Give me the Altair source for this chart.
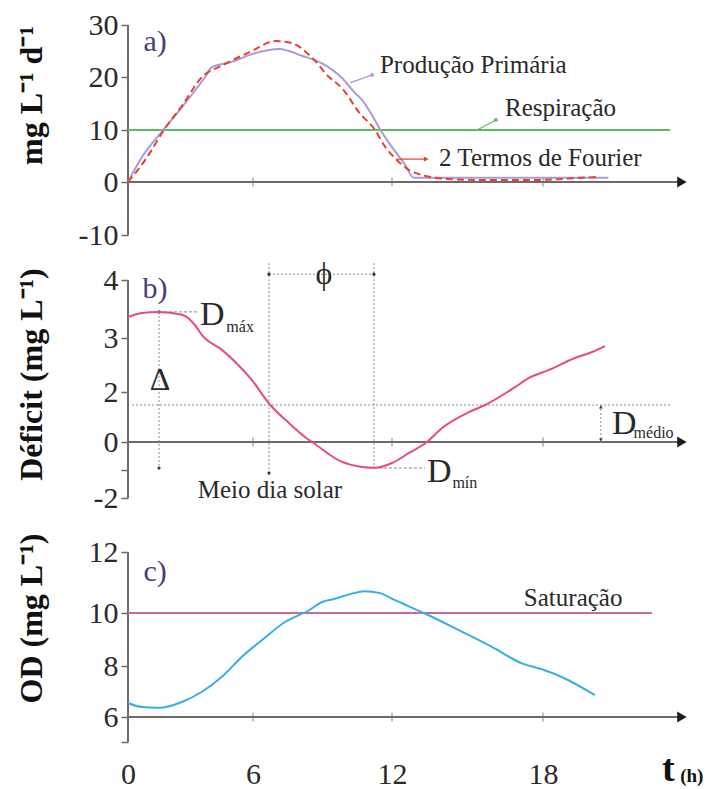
import altair as alt
import pandas as pd

# ---------------- data ----------------
# a) primary production and its 2-term Fourier fit (mg L-1 d-1)
T_PROD = [0, 0.67, 1.63, 2.59, 3.70, 4.03, 4.99, 5.95, 7.12, 8.11, 8.98, 9.84, 10.4, 10.7,
          11.14, 11.5, 12.0, 12.48, 12.87, 14.4, 16.4, 18.0, 20.6]
PROD = [0, 4.8, 9.7, 14.3, 20.0, 21.9, 22.9, 24.4, 25.4, 24.1, 22.6, 19.8, 17.0, 15.7,
        12.8, 10.0, 6.7, 3.6, 0.8, 0.8, 0.8, 0.8, 0.8]
T_FOURIER = [0, 0.82, 1.78, 2.6, 3.55, 4.51, 5.95, 6.95, 7.68, 8.55, 9.28, 9.84, 10.6,
             11.27, 11.7, 12.2, 12.68, 13.31, 14.2, 15.5, 17.8, 19.5, 20.2]
FOURIER = [0, 4.2, 10.3, 14.6, 20.0, 22.2, 25.0, 26.9, 26.5, 23.7, 20.0, 17.9, 13.2,
           10.0, 6.8, 4.2, 2.3, 1.2, 0.6, 0.4, 0.4, 0.8, 1.0]
T_RESP = [0, 23.05]
RESP = [10, 10]

# b) oxygen deficit (mg L-1)
T_DEF = [0, 0.67, 1.49, 2.59, 3.22, 3.55, 4.51, 5.14, 5.95, 6.69, 7.55, 8.42, 8.55, 9.84,
         10.7, 11.27, 12.0, 12.68, 13.39, 13.99, 15.06, 15.7, 16.89, 17.44, 18.24, 19.27,
         19.95, 20.46]
DEFICIT = [3.36, 3.43, 3.45, 3.40, 3.22, 3.05, 2.78, 2.56, 2.22, 1.54, 0.76, 0.08, 0.0,
           -0.71, -0.89, -0.92, -0.75, -0.39, 0.0, 0.56, 1.2, 1.48, 2.09, 2.26, 2.41, 2.63,
           2.74, 2.85]
D_MAX_T, D_MAX = 1.49, 3.45
D_MIN_T, D_MIN = 11.22, -0.93
D_MEAN = 1.48
NOON_T = 6.69

# c) dissolved oxygen (mg L-1) and saturation
T_OD = [0, 0.67, 1.49, 2.59, 3.55, 4.51, 5.47, 6.39, 7.38, 8.42, 8.98, 9.54, 10.4, 10.83,
        11.44, 12.12, 13.31, 14.66, 15.97, 17.16, 17.96, 18.87, 20.06]
OD = [6.55, 6.39, 6.36, 6.59, 6.99, 7.58, 8.35, 8.98, 9.66, 10.09, 10.36, 10.47, 10.66,
      10.71, 10.66, 10.42, 9.98, 9.35, 8.72, 8.1, 7.87, 7.51, 6.86]
T_SAT = [0, 22.33]
SAT = [10, 10]

X_TICKS = [0, 6, 12, 18]
Y_TICKS_A = [-10, 0, 10, 20, 30]
Y_TICKS_B = [-2, -1, 0, 2, 3, 4]
Y_TICKS_C = [5, 6, 8, 10, 12]

# ---------------- styling ----------------
SERIF = "Liberation Serif, Times New Roman, serif"
AX = "#6b6b6b"
TXT = "#2a2a2a"
PANEL = "#4b3c7d"
C_PROD = "#a99bd8"
C_FOUR = "#e8412f"
C_RESP = "#5fba67"
C_DEF = "#e84a86"
C_OD = "#3aaedf"
C_SAT = "#c86b9c"
DOT = "#8a8a8a"
ANN = 25

W = 566
XS = alt.Scale(domain=[0, 6, 12, 18, 24], range=[0, 125, 264, 415, 566], nice=False, zero=False)

HA = 225
YA = alt.Scale(domain=[-10, 0, 10, 20, 30], range=[210, 157, 105, 52, 0], nice=False, zero=False)
HB = 275
YB = alt.Scale(domain=[-2, 0, 2, 3, 4], range=[248, 192, 142, 88, 30], nice=False, zero=False)
HC = 217
YC = alt.Scale(domain=[5, 6, 8, 10, 12], range=[217, 192, 141, 88, 27], nice=False, zero=False)


def yaxis(values, title, title_y, hide=None):
    expr = "toString(datum.value)" if hide is None else \
        "datum.value == %s ? '' : toString(datum.value)" % hide
    return alt.Axis(values=values, title=title, domain=False, grid=False, tickSize=7,
                    tickWidth=1.5, tickColor=AX, labelFont=SERIF, labelFontSize=30,
                    labelColor=TXT, labelPadding=3, labelExpr=expr, titleFont=SERIF,
                    titleFontSize=32, titleFontWeight="bold", titleColor="#111",
                    titleX=-80, titleY=title_y, titleAngle=270)


XAX_C = alt.Axis(values=X_TICKS, domain=False, ticks=False, grid=False, labelFont=SERIF,
                 labelFontSize=30, labelColor=TXT, labelPadding=17, labelFlush=False,
                 labelOverlap=False, title=None, labelExpr="toString(datum.value)")


def makers(yscale, yax, xax=None):
    def X_(f):
        return alt.X(f, type="quantitative", scale=XS, axis=xax)

    def Y_(f):
        return alt.Y(f, type="quantitative", scale=yscale, axis=yax)
    return X_, Y_


def frame(X_, Y_, y_lo, y_hi, y0, x_end=23.4):
    vline = alt.Chart(pd.DataFrame({"t": [0], "lo": [y_lo], "hi": [y_hi]})).mark_rule(
        color=AX, strokeWidth=2).encode(x=X_("t"), y=Y_("lo"), y2="hi")
    hline = alt.Chart(pd.DataFrame({"t0": [0], "t1": [x_end], "v": [y0]})).mark_rule(
        color=AX, strokeWidth=2).encode(x=X_("t0"), x2="t1", y=Y_("v"))
    arrow = alt.Chart(pd.DataFrame({"t": [x_end + 0.12], "v": [y0]})).mark_point(
        shape="triangle-right", filled=True, size=120, color="#1e1e1e", opacity=1).encode(
        x=X_("t"), y=Y_("v"))
    ticks = alt.Chart(pd.DataFrame({"t": X_TICKS[1:], "v": [y0] * 3})).mark_tick(
        orient="vertical", size=9, thickness=1.2, color=AX).encode(x=X_("t"), y=Y_("v"))
    return [vline, hline, ticks, arrow]


def texts(X_, Y_, ts, vs, labels, size, color=TXT, align="left", weight="normal"):
    df = pd.DataFrame({"t": ts, "v": vs, "s": labels})
    return alt.Chart(df).mark_text(align=align, baseline="middle", fontSize=size, color=color,
                                   font=SERIF, fontWeight=weight).encode(
        x=X_("t"), y=Y_("v"), text="s:N")


def segs(X_, Y_, rows, color, width=1.0, dash=None):
    df = pd.DataFrame(rows, columns=["t0", "v0", "t1", "v1"])
    kw = {"strokeDash": dash} if dash else {}
    return alt.Chart(df).mark_rule(color=color, strokeWidth=width, **kw).encode(
        x=X_("t0"), y=Y_("v0"), x2="t1", y2="v1")


def dots(X_, Y_, ts, vs, color, size=14, shape="circle"):
    df = pd.DataFrame({"t": ts, "v": vs})
    return alt.Chart(df).mark_point(filled=True, size=size, color=color, opacity=1,
                                    shape=shape).encode(x=X_("t"), y=Y_("v"))


def series(X_, Y_, ts, vs, color, width=2.0, dash=None):
    df = pd.DataFrame({"t": ts, "v": vs})
    kw = {"strokeDash": dash} if dash else {}
    return alt.Chart(df).mark_line(color=color, strokeWidth=width, interpolate="monotone",
                                   **kw).encode(x=X_("t"), y=Y_("v"))


# ---------------- panel a ----------------
Xa, Ya = makers(YA, yaxis(Y_TICKS_A, "mg L\u207b\u00b9 d\u207b\u00b9", 70))
layers_a = frame(Xa, Ya, -10, 30, 0) + [
    series(Xa, Ya, T_RESP, RESP, C_RESP, 2.2),
    series(Xa, Ya, T_PROD, PROD, C_PROD, 2.0),
    series(Xa, Ya, T_FOURIER, FOURIER, C_FOUR, 2.0, [7, 4]),
    segs(Xa, Ya, [[10.19, 18.9, 11.14, 20.4]], C_PROD, 1.2),
    dots(Xa, Ya, [11.14], [20.4], C_PROD),
    segs(Xa, Ya, [[15.38, 10.0, 16.13, 11.9]], C_RESP, 1.2),
    dots(Xa, Ya, [16.13], [11.9], C_RESP),
    segs(Xa, Ya, [[12.2, 4.4, 13.3, 4.4]], C_FOUR, 1.2),
    dots(Xa, Ya, [13.36], [4.4], C_FOUR, 30, "triangle-right"),
    texts(Xa, Ya, [1.3], [26.7], ["a)"], 30, PANEL, "center"),
    texts(Xa, Ya, [11.48, 16.49, 13.87], [22.4, 14.2, 4.6],
          ["Produção Primária", "Respiração", "2 Termos de Fourier"], ANN),
]
panel_a = alt.layer(*layers_a).properties(width=W, height=HA)

# ---------------- panel b ----------------
Xb, Yb = makers(YB, yaxis(Y_TICKS_B, "Déficit (mg L\u207b\u00b9)", 124, hide=-1))
layers_b = frame(Xb, Yb, -2, 4, 0) + [
    segs(Xb, Yb, [[0.19, D_MEAN, 23.05, D_MEAN],
                  [D_MAX_T, D_MAX, D_MAX_T, -0.93],
                  [NOON_T, 4.29, NOON_T, -1.11],
                  [D_MIN_T, 4.29, D_MIN_T, D_MIN],
                  [NOON_T, 4.10, D_MIN_T, 4.10],
                  [20.3, D_MEAN, 20.3, 0.0]], DOT, 1.0, [2, 2]),
    segs(Xb, Yb, [[D_MAX_T, D_MAX, 3.41, D_MAX],
                  [D_MIN_T, D_MIN, 13.31, D_MIN]], DOT, 1.0, [3, 2]),
    dots(Xb, Yb, [D_MAX_T, D_MAX_T, NOON_T, NOON_T, D_MIN_T], [D_MAX, -0.93, -1.11, 4.10, 4.10],
         "#333", 10),
    dots(Xb, Yb, [20.3], [D_MEAN - 0.08], "#333", 14, "triangle-up"),
    dots(Xb, Yb, [20.3], [0.08], "#333", 14, "triangle-down"),
    series(Xb, Yb, T_DEF, DEFICIT, C_DEF, 2.0),
    texts(Xb, Yb, [1.3], [3.84], ["b)"], 30, PANEL, "center"),
    texts(Xb, Yb, [3.46, 13.39, 20.74], [3.40, -1.07, 0.72], ["D", "D", "D"], 34),
    texts(Xb, Yb, [4.72, 14.4, 21.6], [3.19, -1.46, 0.36], ["máx", "mín", "médio"], 16),
    texts(Xb, Yb, [1.54], [2.22], ["\u0394"], 32, TXT, "center"),
    texts(Xb, Yb, [9.06], [4.10], ["\u03d5"], 32, TXT, "center"),
    texts(Xb, Yb, [6.73], [-1.71], ["Meio dia solar"], ANN, TXT, "center"),
]
panel_b = alt.layer(*layers_b).properties(width=W, height=HB)

# ---------------- panel c ----------------
Xc, Yc = makers(YC, yaxis(Y_TICKS_C, "OD (mg L\u207b\u00b9)", 93, hide=5), XAX_C)
layers_c = frame(Xc, Yc, 5, 12, 6) + [
    series(Xc, Yc, T_SAT, SAT, C_SAT, 2.0),
    series(Xc, Yc, T_OD, OD, C_OD, 2.0),
    texts(Xc, Yc, [1.3], [11.34], ["c)"], 30, PANEL, "center"),
    texts(Xc, Yc, [17.24], [10.49], ["Saturação"], ANN),
    texts(Xc, Yc, [22.73], [3.9], ["t"], 38, "#111", "left", "bold"),
    texts(Xc, Yc, [23.45], [3.65], ["(h)"], 19, "#111", "left", "bold"),
]
panel_c = alt.layer(*layers_c).properties(width=W, height=HC)

chart = alt.vconcat(panel_a, panel_b, panel_c, spacing=0).resolve_scale(
    x="independent", y="independent").resolve_axis(x="independent", y="independent").properties(
    padding={"left": 7, "top": 2, "right": 0, "bottom": 0}, background="white"
).configure_view(stroke=None)

chart.save("out.html", embed_options={"renderer": "svg", "actions": False})
